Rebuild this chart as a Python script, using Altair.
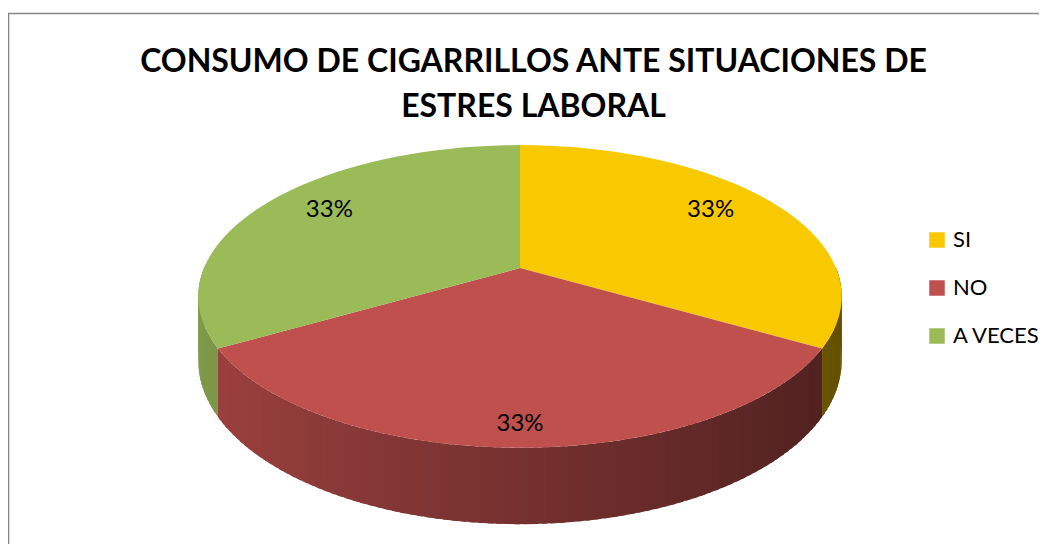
import altair as alt
import pandas as pd

# ---- data ----
CATEGORIAS = ["SI", "NO", "A VECES"]
VALORES = [33.3, 33.3, 33.3]
TITULO = ["CONSUMO DE CIGARRILLOS ANTE SITUACIONES DE", "ESTRES LABORAL"]

# ---- styles ----
COLORES = ["#F9C900", "#C0504D", "#9BBB59"]
FONT = "Lato"
CX, CY = 520, 268          # pie apex (pixel space)
R, A, K, H = 316, 146, 0.188, 62   # radius, vertical squash, perspective, depth
N = 40
NS = 90
LRX, LRY = 0.762, 0.865
W, HGT = 1031, 536

df = pd.DataFrame({"cat": CATEGORIAS, "value": VALORES, "idx": list(range(len(CATEGORIAS)))})

xs = alt.Scale(domain=[8, 8 + W], nice=False, zero=False)
ys = alt.Scale(domain=[8, 8 + HGT], nice=False, zero=False, reverse=True)
cscale = alt.Scale(domain=CATEGORIAS, range=COLORES)


def X(f):
    return alt.X(f"{f}:Q", scale=xs, axis=None)


def Y(f):
    return alt.Y(f"{f}:Q", scale=ys, axis=None)


base = (
    alt.Chart(df)
    .transform_joinaggregate(total="sum(value)")
    .transform_window(cum="sum(value)", sort=[alt.SortField("idx")], frame=[None, 0])
    .transform_calculate(
        t0="2 * PI * (datum.cum - datum.value) / datum.total",
        t1="2 * PI * datum.cum / datum.total",
    )
)

color_list = "[" + ",".join(f"'{c}'" for c in COLORES) + "]"

side = (
    base.transform_calculate(seg=f"sequence(0, {NS})")
    .transform_flatten(["seg"])
    .transform_calculate(thm=f"datum.t0 + (datum.t1 - datum.t0) * (datum.seg + 0.5) / {NS}")
    .transform_filter("cos(datum.thm) < 0.02")
    .transform_calculate(corner="[0, 1, 2, 3]")
    .transform_flatten(["corner"])
    .transform_calculate(
        j="datum.seg + ((datum.corner == 1 || datum.corner == 2) ? 1.6 : 0)",
        th=f"min(datum.t1, datum.t0 + (datum.t1 - datum.t0) * datum.j / {NS})",
        s=f"1 / (1 + {K} * cos(datum.th))",
        px=f"{CX} + datum.s * {R} * sin(datum.th)",
        py=f"{CY} - datum.s * {A} * cos(datum.th) + (datum.corner >= 2 ? datum.s * {H} : 0)",
        f="0.61 - 0.22 * sin(datum.thm)",
        basecol=f"{color_list}[datum.idx]",
        col="'rgb(' + round(rgb(datum.basecol).r * datum.f) + ',' + round(rgb(datum.basecol).g * datum.f) + ',' + round(rgb(datum.basecol).b * datum.f) + ')'",
        key=f"datum.idx * 1000 + datum.seg",
    )
    .mark_line(filled=True, strokeWidth=0)
    .encode(
        x=X("px"),
        y=Y("py"),
        order=alt.Order("corner:Q"),
        detail="key:O",
        fill=alt.Fill("col:N", scale=None),
    )
)

top = (
    base.transform_calculate(step=f"sequence(-1, {N + 1})")
    .transform_flatten(["step"])
    .transform_calculate(
        th=f"datum.t0 + (datum.t1 - datum.t0) * max(datum.step, 0) / {N}",
        s=f"1 / (1 + {K} * cos(datum.th))",
        px=f"datum.step < 0 ? {CX} : {CX} + datum.s * {R} * sin(datum.th)",
        py=f"datum.step < 0 ? {CY} : {CY} - datum.s * {A} * cos(datum.th)",
    )
    .mark_line(filled=True)
    .encode(
        x=X("px"),
        y=Y("py"),
        order=alt.Order("step:Q"),
        detail="cat:N",
        color=alt.Color(
            "cat:N",
            scale=cscale,
            legend=alt.Legend(
                orient="none", legendX=918, legendY=221, title=None,
                symbolType="square", symbolSize=240, symbolStrokeWidth=0,
                labelFont=FONT, labelFontSize=22, labelColor="black",
                rowPadding=26, labelOffset=5, padding=0, labelLimit=300,
            ),
        ),
    )
)

labels = (
    base.transform_calculate(
        tm="(datum.t0 + datum.t1) / 2",
        s=f"1 / (1 + {K} * cos(datum.tm))",
        lx=f"{CX} + datum.s * {R} * sin(datum.tm) * {LRX}",
        ly=f"{CY} - datum.s * {A} * cos(datum.tm) * {LRY}",
        pct="format(datum.value / datum.total, '.0%')",
    )
    .mark_text(font=FONT, fontSize=24, baseline="middle", align="center", color="black")
    .encode(x=X("lx"), y=Y("ly"), text="pct:N")
)

title = (
    alt.Chart(pd.DataFrame({"titulo": ["\n".join(TITULO)]}))
    .mark_text(font=FONT, fontWeight="bold", fontSize=32, lineHeight=45,
               lineBreak="\n", align="center", baseline="alphabetic", color="black")
    .encode(x=alt.value(525.5), y=alt.value(64), text="titulo:N")
)

frame_df = pd.DataFrame({"k": [0]})
frame_v = alt.Chart(frame_df).mark_rule(color="#868686", strokeWidth=1.5).encode(
    x=alt.value(0.5), y=alt.value(5.5), y2=alt.value(HGT))
frame_h = alt.Chart(frame_df).mark_rule(color="#868686", strokeWidth=1.5).encode(
    x=alt.value(0), x2=alt.value(W), y=alt.value(5.5))

chart = (
    alt.layer(frame_v, frame_h, side, top, labels, title)
    .properties(width=W, height=HGT, padding=0, autosize=alt.AutoSizeParams(type="none"))
    .configure_view(stroke=None)
)

chart.save("out.html", embed_options={"renderer": "svg", "actions": False})
